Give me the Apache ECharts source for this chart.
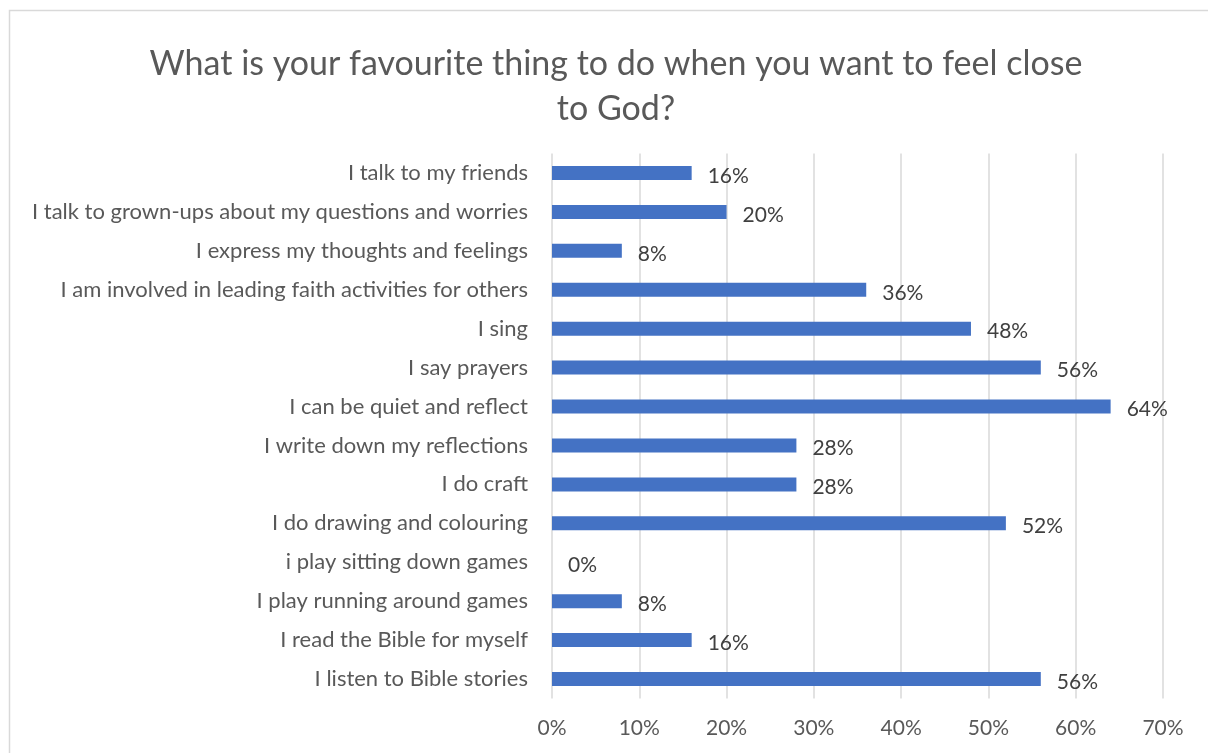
<!DOCTYPE html>
<html><head><meta charset="utf-8">
<script src="https://cdn.jsdelivr.net/npm/echarts@6/dist/echarts.min.js"></script>
<style>html,body{margin:0;padding:0;background:#fff}#c{width:1208px;height:753px}</style>
</head><body><div id="c"></div>
<script>
const categories = [
  "I listen to Bible stories",
  "I read the Bible for myself",
  "I play running around games",
  "i play sitting down games",
  "I do drawing and colouring",
  "I do craft",
  "I write down my reflections",
  "I can be quiet and reflect",
  "I say prayers",
  "I sing",
  "I am involved in leading faith activities for others",
  "I express my thoughts and feelings",
  "I talk to grown-ups about my questions and worries",
  "I talk to my friends"
];
const values = [0.56, 0.16, 0.08, 0, 0.52, 0.28, 0.28, 0.64, 0.56, 0.48, 0.36, 0.08, 0.20, 0.16];
const titleText = "What is your favourite thing to do when you want to feel close\nto God?";

const chart = echarts.init(document.getElementById('c'), null, {renderer: 'canvas'});
const font = "Lato, 'Open Sans', sans-serif";
chart.setOption({
  animation: false,
  textStyle: {fontFamily: font},
  graphic: [{
    type: 'rect', silent: true, z: -1,
    shape: {x: 9.5, y: 10.5, width: 1240, height: 780},
    style: {fill: 'none', stroke: '#d9d9d9', lineWidth: 1.5}
  }],
  title: {
    text: titleText, left: 611, textAlign: 'center', top: 37,
    textStyle: {fontFamily: font, fontSize: 34, fontWeight: 'normal', color: '#595959', lineHeight: 45}
  },
  grid: {left: 552, right: 1208 - 1163, top: 153.5, bottom: 753 - 698.5, containLabel: false},
  xAxis: {
    type: 'value', min: 0, max: 0.7, interval: 0.1,
    axisLine: {show: false}, axisTick: {show: false},
    splitLine: {lineStyle: {color: '#d9d9d9', width: 1.5}},
    axisLabel: {color: '#595959', fontSize: 21, margin: 19, fontFamily: font,
      formatter: v => Math.round(v * 100) + '%'}
  },
  yAxis: {
    type: 'category', data: categories,
    axisLine: {show: false}, axisTick: {show: false},
    axisLabel: {color: '#595959', fontSize: 22, margin: 24, fontFamily: font}
  },
  series: [{
    type: 'bar', data: values, barWidth: 14,
    itemStyle: {color: '#4472c4'},
    label: {show: true, position: 'right', distance: 16, color: '#404040', fontSize: 21, fontFamily: font,
      offset: [0, 3],
      formatter: p => Math.round(p.value * 100) + '%'}
  }]
});
</script></body></html>
